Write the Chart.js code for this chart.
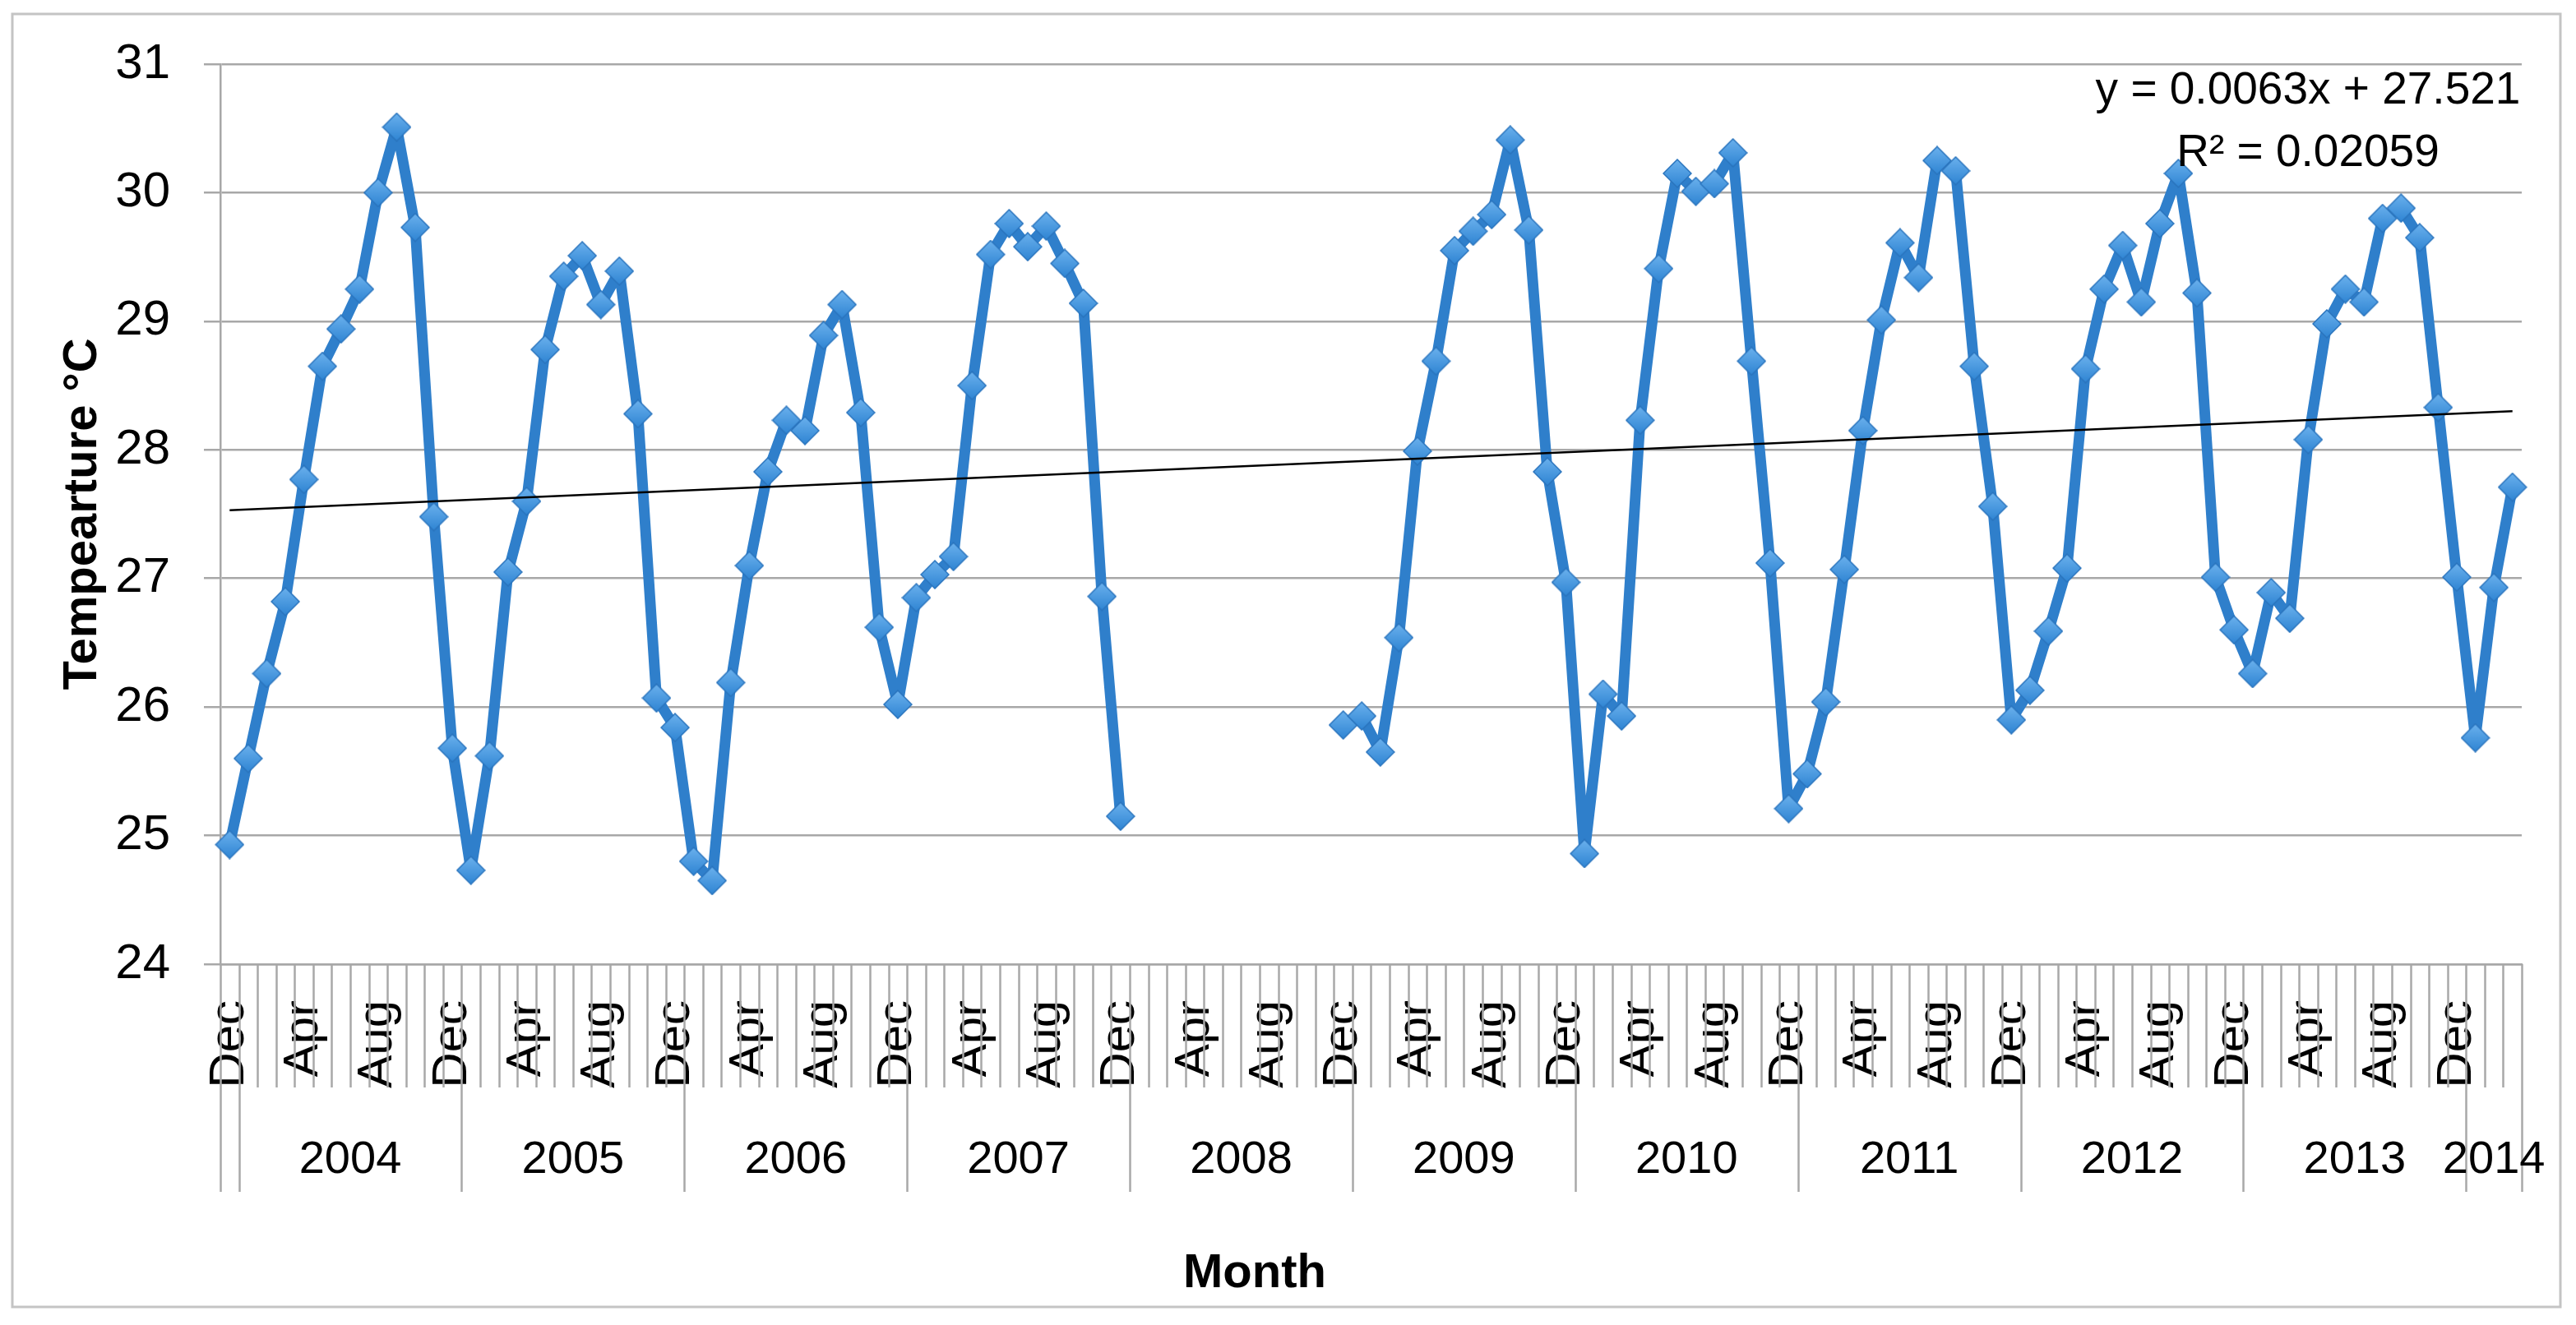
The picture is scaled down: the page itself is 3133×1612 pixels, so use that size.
<!DOCTYPE html>
<html>
<head>
<meta charset="utf-8">
<script src="https://cdn.jsdelivr.net/npm/chart.js@4.4.1/dist/chart.umd.min.js"></script>
<style>
  html, body { margin: 0; padding: 0; background: #fff; }
  canvas { display: block; }
</style>
</head>
<body>
<canvas id="chart" width="3133" height="1612"></canvas>
<script>
'use strict';

// Eje X: meses desde dic-2003 hasta mar-2014, agrupados por año
const MONTH_NAMES = ['Jan', 'Feb', 'Mar', 'Apr', 'May', 'Jun', 'Jul', 'Aug', 'Sep', 'Oct', 'Nov', 'Dec'];
const FIRST_MONTH = 11; // Dec
const YEARS      = ['2003', '2004', '2005', '2006', '2007', '2008', '2009', '2010', '2011', '2012', '2013', '2014'];
const YEAR_SPANS = [1, 12, 12, 12, 12, 12, 12, 12, 12, 12, 12, 3];

// Temperatura media mensual (°C). 2008 casi sin datos.
const TEMPS = [
  24.93,
  25.60, 26.26, 26.82, 27.77, 28.65, 28.94, 29.25, 30.00, 30.51, 29.73, 27.48, 25.68,
  24.73, 25.62, 27.05, 27.60, 28.78, 29.35, 29.51, 29.13, 29.39, 28.28, 26.07, 25.84,
  24.80, 24.65, 26.19, 27.10, 27.83, 28.23, 28.15, 28.89, 29.13, 28.29, 26.62, 26.02,
  26.85, 27.03, 27.17, 28.50, 29.52, 29.76, 29.58, 29.74, 29.45, 29.14, 26.86, 25.15,
  null, null, null, null, null, null, null, null, null, null, null, 25.86,
  25.93, 25.65, 26.54, 27.99, 28.69, 29.55, 29.70, 29.83, 30.41, 29.71, 27.83, 26.97,
  24.86, 26.10, 25.93, 28.23, 29.41, 30.15, 30.01, 30.07, 30.31, 28.69, 27.12, 25.21,
  25.48, 26.04, 27.07, 28.15, 29.01, 29.61, 29.34, 30.25, 30.17, 28.65, 27.56, 25.90,
  26.13, 26.59, 27.08, 28.63, 29.25, 29.59, 29.15, 29.76, 30.15, 29.22, 27.01, 26.60,
  26.26, 26.89, 26.69, 28.08, 28.98, 29.25, 29.15, 29.80, 29.88, 29.65, 28.33, 27.01,
  25.76, 26.93, 27.71,
];

// Línea de tendencia lineal: valores en el primer y último mes
const TREND_ENDS = [27.53, 28.30];
const TREND_TEXT = ['y = 0.0063x + 27.521', 'R\u00B2 = 0.02059'];

const Y_MIN = 24, Y_MAX = 31, Y_STEP = 1;

const LABELS = TEMPS.map((_, i) => MONTH_NAMES[(FIRST_MONTH + i) % 12]);
const TREND = TEMPS.map((_, i) => i === 0 ? TREND_ENDS[0] : (i === TEMPS.length - 1 ? TREND_ENDS[1] : null));

const FONT = "'Liberation Sans Narrow', 'Liberation Sans', sans-serif";
const GRID = '#a8a8a8';
const LINE = '#2f7fcb';

// Marcador rombo con degradado, estilo Excel
function diamond(size) {
  const c = document.createElement('canvas');
  c.width = size; c.height = size;
  const g = c.getContext('2d');
  const h = size / 2;
  const grad = g.createLinearGradient(0, 0, 0, size);
  grad.addColorStop(0, '#6cb2ee');
  grad.addColorStop(1, '#2d83d2');
  g.beginPath();
  g.moveTo(h, 1); g.lineTo(size - 1, h); g.lineTo(h, size - 1); g.lineTo(1, h);
  g.closePath();
  g.fillStyle = grad;
  g.fill();
  g.lineWidth = 1.5;
  g.strokeStyle = '#2a74bd';
  g.stroke();
  return c;
}

// Marco, separadores de meses/años, etiquetas de año y textos extra
const axisDecor = {
  id: 'axisDecor',
  beforeDraw(chart) {
    const { ctx } = chart;
    ctx.save();
    ctx.fillStyle = '#fff';
    ctx.fillRect(0, 0, chart.width, chart.height);
    ctx.strokeStyle = '#c4c4c4';
    ctx.lineWidth = 3;
    ctx.strokeRect(15, 17, 3099, 1573);
    ctx.restore();
  },
  afterDraw(chart) {
    const { ctx, chartArea } = chart;
    const x = chart.scales.x;
    const step = x.getPixelForValue(1) - x.getPixelForValue(0);
    const edge = (i) => x.getPixelForValue(0) - step / 2 + i * step;

    // posiciones donde empieza cada año
    const starts = [0];
    YEAR_SPANS.forEach((s, g) => starts.push(starts[g] + s));

    ctx.save();
    ctx.strokeStyle = GRID;
    ctx.lineWidth = 2.5;
    for (let i = 0; i <= LABELS.length; i++) {
      const long = starts.includes(i);
      const px = Math.round(edge(i)) + 0.5;
      ctx.beginPath();
      ctx.moveTo(px, x.top);
      ctx.lineTo(px, x.top + (long ? 277 : 150));
      ctx.stroke();
    }

    ctx.fillStyle = '#000';
    ctx.textAlign = 'center';
    ctx.textBaseline = 'middle';
    ctx.font = `56px ${FONT}`;
    YEARS.forEach((yr, g) => {
      if (YEAR_SPANS[g] < 2) return; // grupo demasiado estrecho, Excel no lo rotula
      const cx = (edge(starts[g]) + edge(starts[g + 1])) / 2;
      ctx.fillText(yr, cx, x.top + 239);
    });

    // título del eje X
    ctx.font = `bold 58px ${FONT}`;
    ctx.fillText('Month', 1526, 1550);

    // ecuación de la tendencia
    ctx.font = `55px ${FONT}`;
    const tx = chartArea.right - 260;
    ctx.fillText(TREND_TEXT[0], tx, chartArea.top + 33);
    ctx.fillText(TREND_TEXT[1], tx, chartArea.top + 109);
    ctx.restore();
  },
};

new Chart(document.getElementById('chart'), {
  type: 'line',
  data: {
    labels: LABELS,
    datasets: [
      {
        label: 'Trend',
        data: TREND,
        order: 0,
        spanGaps: true,
        borderColor: '#000',
        borderWidth: 2.5,
        pointRadius: 0,
      },
      {
        label: 'Temperature',
        data: TEMPS,
        order: 1,
        borderColor: LINE,
        borderWidth: 13,
        borderJoinStyle: 'round',
        tension: 0,
        spanGaps: false,
        pointStyle: diamond(36),
        pointRadius: 18,
      },
    ],
  },
  options: {
    responsive: false,
    animation: false,
    events: [],
    layout: { padding: { top: 78, left: 30, right: 66, bottom: 20 } },
    plugins: {
      legend: { display: false },
      tooltip: { enabled: false },
    },
    scales: {
      x: {
        offset: true,
        // alto fijo del eje y sin márgenes laterales extra por las etiquetas giradas
        afterFit: (s) => { s.height = 419; s.paddingLeft = 0; s.paddingRight = 0; },
        grid: { display: false, drawTicks: false },
        border: { display: true, color: GRID, width: 2.5 },
        ticks: {
          autoSkip: false,
          minRotation: 90, maxRotation: 90,
          padding: 44,
          color: '#000',
          font: { family: FONT, size: 60 },
          callback: (v, i) => (i % 4 === 0 ? LABELS[i] : ''),
        },
      },
      y: {
        min: Y_MIN, max: Y_MAX,
        afterFit: (s) => { s.width = 238; },
        grid: { color: GRID, lineWidth: 2.5, tickLength: 20 },
        border: { display: true, color: GRID, width: 2.5 },
        ticks: {
          stepSize: Y_STEP,
          padding: 41,
          color: '#000',
          font: { family: FONT, size: 60 },
        },
        title: {
          display: true,
          text: 'Tempearture \u00B0C',
          color: '#000',
          font: { family: FONT, size: 58, weight: 'bold' },
          padding: { top: 36, bottom: 0 },
        },
      },
    },
  },
  plugins: [axisDecor],
});
</script>
</body>
</html>
